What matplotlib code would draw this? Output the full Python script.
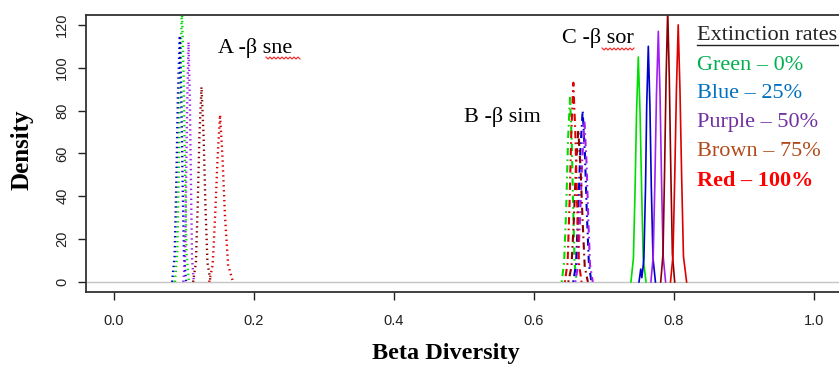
import numpy as np
import matplotlib.pyplot as plt
from matplotlib.lines import Line2D

# --- Curve data (x = beta diversity, y = density) ---
# colours in order: green (0%), blue (25%), purple (50%), brown (75%), red (100%)
curve_colors = ['#00DD00', '#0000CC', '#A020F0', '#8B0000', '#DD0000']

# A - beta sne (dotted)
sne_green_x = [0.087, 0.0903, 0.0925, 0.0945, 0.097, 0.0995, 0.1015, 0.1037, 0.107]
sne_green_y = [0, 13, 51, 96, 128, 96, 51, 13, 0]
sne_blue_x = [0.083, 0.0866, 0.089, 0.0912, 0.094, 0.0963, 0.098, 0.100, 0.103]
sne_blue_y = [0, 12, 46, 86, 115, 86, 46, 12, 0]
sne_purple_x = [0.099, 0.1015, 0.103, 0.1046, 0.1065, 0.1084, 0.110, 0.1115, 0.114]
sne_purple_y = [0, 11, 45, 84, 112, 84, 45, 11, 0]
sne_brown_x = [0.113, 0.117, 0.1196, 0.122, 0.125, 0.128, 0.1306, 0.1335, 0.138]
sne_brown_y = [0, 9, 36, 68, 91, 68, 36, 9, 0]
sne_red_x = [0.136, 0.141, 0.1445, 0.148, 0.1515, 0.155, 0.1585, 0.163, 0.170]
sne_red_y = [0, 8, 31, 58, 78, 58, 31, 8, 0]

# B - beta sim (dot-dash)
sim_green_x = [0.6395, 0.643, 0.646, 0.6485, 0.6514, 0.654, 0.656, 0.658, 0.661]
sim_green_y = [0, 9, 34, 65, 86, 65, 34, 9, 0]
sim_blue_x = [0.656, 0.660, 0.663, 0.666, 0.6695, 0.6727, 0.6755, 0.6785, 0.682]
sim_blue_y = [0, 8, 32, 60, 80, 60, 32, 8, 0]
sim_purple_x = [0.659, 0.663, 0.6658, 0.6688, 0.672, 0.675, 0.6775, 0.680, 0.684]
sim_purple_y = [0, 8, 30, 56, 75, 56, 30, 8, 0]
sim_brown_x = [0.649, 0.6535, 0.6568, 0.6598, 0.6633, 0.6665, 0.6695, 0.6725, 0.677]
sim_brown_y = [0, 7, 28, 53, 71, 53, 28, 7, 0]
sim_red_x = [0.644, 0.648, 0.6508, 0.6533, 0.6562, 0.659, 0.6616, 0.664, 0.668]
sim_red_y = [0, 9, 37, 70, 93, 70, 37, 9, 0]

# C - beta sor (solid)
sor_green_x = [0.7385, 0.742, 0.7443, 0.7465, 0.749, 0.7515, 0.7538, 0.756, 0.760]
sor_green_y = [0, 11, 42, 79, 105, 79, 42, 11, 0]
sor_blue_x = [0.750, 0.7525, 0.754, 0.7555, 0.757, 0.7593, 0.761, 0.7633, 0.7656, 0.7676, 0.770, 0.7735]
sor_blue_y = [0, 6, 2, 6, 11, 44, 82, 110, 82, 44, 11, 0]
sor_purple_x = [0.767, 0.7703, 0.7727, 0.775, 0.7776, 0.780, 0.7822, 0.7845, 0.788]
sor_purple_y = [0, 12, 47, 88, 117, 88, 47, 12, 0]
sor_brown_x = [0.781, 0.7843, 0.7865, 0.7887, 0.791, 0.7933, 0.7955, 0.7977, 0.801]
sor_brown_y = [0, 13, 51, 95, 127, 95, 51, 13, 0]
sor_red_x = [0.795, 0.7985, 0.801, 0.8035, 0.806, 0.8085, 0.811, 0.8135, 0.818]
sor_red_y = [0, 12, 48, 90, 120, 90, 48, 12, 0]

x_ticks = [0.0, 0.2, 0.4, 0.6, 0.8, 1.0]
x_tick_labels = ['0.0', '0.2', '0.4', '0.6', '0.8', '1.0']
y_ticks = [0, 20, 40, 60, 80, 100, 120]

legend_title = 'Extinction rates'
legend_labels = ['Green \u2013 0%', 'Blue \u2013 25%', 'Purple \u2013 50%',
                 'Brown \u2013 75%', 'Red \u2013 100%']
legend_colors = ['#00B050', '#0070C0', '#7030A0', '#B04A1A', '#FF0000']

W, H = 839, 369


def fx(px):
    return px / W


def fy(py):
    return 1 - py / H


fig = plt.figure(figsize=(8.39, 3.69), dpi=100)
ax = fig.add_axes([fx(86), fy(292), fx(842 - 86), (292 - 15) / H])

ax.axhline(0, color='#c4c4c4', lw=1, zorder=0)

sne = [(sne_green_x, sne_green_y), (sne_blue_x, sne_blue_y), (sne_purple_x, sne_purple_y),
       (sne_brown_x, sne_brown_y), (sne_red_x, sne_red_y)]
sim = [(sim_green_x, sim_green_y), (sim_blue_x, sim_blue_y), (sim_purple_x, sim_purple_y),
       (sim_brown_x, sim_brown_y), (sim_red_x, sim_red_y)]
sor = [(sor_green_x, sor_green_y), (sor_blue_x, sor_blue_y), (sor_purple_x, sor_purple_y),
       (sor_brown_x, sor_brown_y), (sor_red_x, sor_red_y)]

for (xs, ys), c in zip(sne, curve_colors):
    ax.plot(xs, ys, color=c, lw=1.7, linestyle=(0, (0.6, 1.5)))
for (xs, ys), c in zip(sim, curve_colors):
    ax.plot(xs, ys, color=c, lw=1.5, linestyle=(0, (0.8, 2, 3.5, 2)))
for (xs, ys), c in zip(sor, curve_colors):
    ax.plot(xs, ys, color=c, lw=1.2)

ax.set_xlim(-0.04, 1.04)
ax.set_ylim(-4.7, 124.6)
ax.set_xticks(x_ticks)
ax.set_xticklabels(x_tick_labels, fontfamily='Liberation Sans', fontsize=10.5)
ax.set_yticks(y_ticks)
ax.set_yticklabels([str(v) for v in y_ticks], fontfamily='Liberation Sans',
                   fontsize=10.5, rotation=90, va='center')
ax.tick_params(axis='x', length=6, width=1, pad=10, colors='#222222')
ax.tick_params(axis='y', length=6, width=1, pad=6, colors='#222222')
for side in ['top', 'bottom', 'left', 'right']:
    ax.spines[side].set_color('#333333')
    ax.spines[side].set_linewidth(1.3)

serif = 'Liberation Serif'
fig.text(fx(22), fy(150), 'Density', rotation=90, ha='center', va='center',
         fontfamily=serif, fontweight='bold', fontsize=18)
fig.text(fx(446), fy(353), 'Beta Diversity', ha='center', va='center',
         fontfamily=serif, fontweight='bold', fontsize=17.5)

# group labels
fig.text(fx(218), fy(48), 'A -\u03b2 sne', ha='left', va='center',
         fontfamily=serif, fontsize=16)
fig.text(fx(464), fy(117), 'B -\u03b2 sim', ha='left', va='center',
         fontfamily=serif, fontsize=16)
fig.text(fx(562), fy(38), 'C -\u03b2 sor', ha='left', va='center',
         fontfamily=serif, fontsize=16)


def squiggle(x0, x1, y):
    xs = np.arange(x0, x1 + 0.1, 2)
    ys = [y + (1 if i % 2 else -1) for i in range(len(xs))]
    fig.add_artist(Line2D([fx(v) for v in xs], [fy(v) for v in ys],
                          color='#ff2020', lw=0.8))


squiggle(266, 300, 58)
squiggle(602, 634, 49)

# legend written as text
fig.text(fx(697), fy(35), legend_title, ha='left', va='center',
         fontfamily=serif, fontsize=16, color='#222222')
fig.add_artist(Line2D([fx(697), fx(839)], [fy(45), fy(45)], color='#222222', lw=1))
for i, (lab, col) in enumerate(zip(legend_labels, legend_colors)):
    fig.text(fx(697), fy(65 + 29 * i), lab, ha='left', va='center',
             fontfamily=serif, fontsize=16, color=col,
             fontweight='bold' if i == 4 else 'normal')

fig.savefig('out.png', dpi=100)
